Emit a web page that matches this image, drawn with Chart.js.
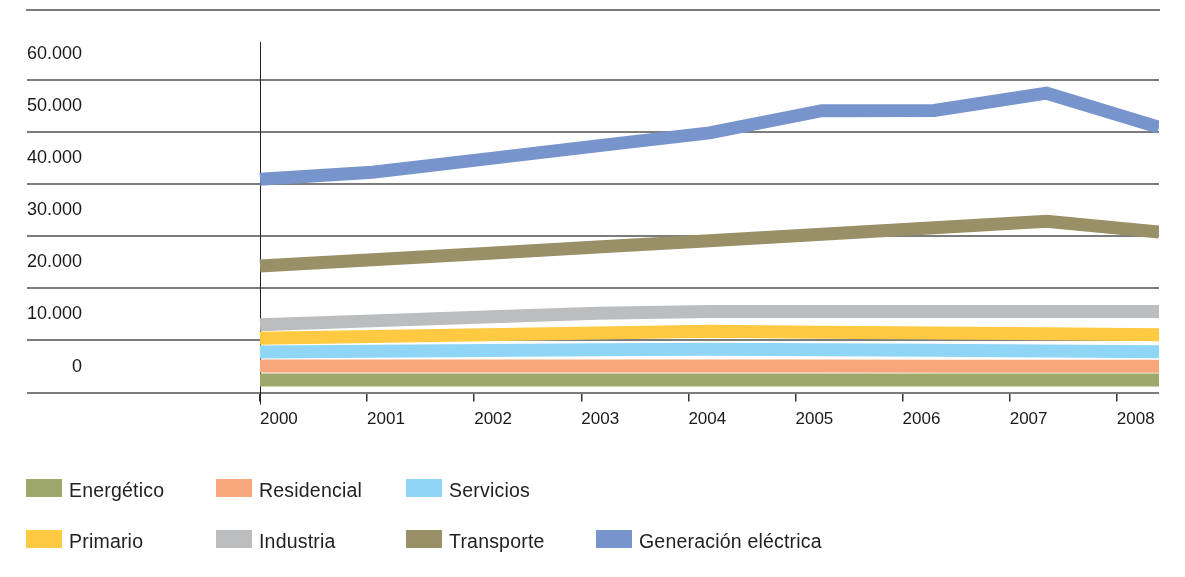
<!DOCTYPE html>
<html>
<head>
<meta charset="utf-8">
<script src="https://cdn.jsdelivr.net/npm/chart.js"></script>
<style>
  body { margin: 0; background: #fff; }
  #wrap { position: relative; width: 1185px; height: 577px; }
  #legend {
    position: absolute; left: 26px; top: 478px;
    display: grid; grid-template-columns: repeat(4, 190px);
    grid-auto-rows: 24px; row-gap: 27px;
    font-family: "Liberation Sans", Arial, sans-serif; font-size: 19.5px;
    line-height: 24px; color: #222; letter-spacing: 0.2px; white-space: nowrap;
  }
  #legend .box { display: inline-block; width: 36px; height: 18px; margin-right: 7px; }
</style>
</head>
<body>
<div id="wrap">
  <canvas id="chart" width="1185" height="577"></canvas>
  <div id="legend"></div>
</div>
<script>
const years = ["2000", "2001", "2002", "2003", "2004", "2005", "2006", "2007", "2008"];
const yTickValues = [0, 10000, 20000, 30000, 40000, 50000, 60000];
const yTickLabels = ["0", "10.000", "20.000", "30.000", "40.000", "50.000", "60.000"];

const energetico  = [2430, 2430, 2430, 2430, 2430, 2430, 2430, 2430, 2430];
const residencial = [5120, 5120, 5110, 5110, 5100, 5090, 5070, 5060, 5040];
const servicios   = [7800, 7930, 8070, 8200, 8340, 8220, 8110, 7970, 7860];
const primario    = [10410, 10750, 11080, 11420, 11750, 11590, 11420, 11270, 11120];
const industria   = [13030, 13760, 14510, 15240, 15580, 15580, 15580, 15580, 15580];
const transporte  = [24280, 25490, 26700, 27920, 29130, 30390, 31640, 32870, 30820];
const generacion  = [40950, 42260, 44790, 47340, 49830, 54080, 54140, 57440, 50880];

const seriesNames = ["Energético", "Residencial", "Servicios", "Primario", "Industria", "Transporte", "Generación eléctrica"];
const seriesData = [energetico, residencial, servicios, primario, industria, transporte, generacion];
const colors = ["#9fa86c", "#f7a67b", "#8fd6f6", "#ffca41", "#bcbdbf", "#999068", "#7894cc"];

const yMax = 73400;      // top border of the plot
const axisTop = 67300;   // where the vertical axis line starts

// vertical axis line at 2000
const axisLine = {
  id: "axisLine",
  beforeDatasetsDraw(chart) {
    const {ctx, scales: {x, y}, chartArea} = chart;
    const px = Math.round(x.getPixelForValue(0)) + 0.5;
    ctx.save();
    ctx.strokeStyle = "#222";
    ctx.lineWidth = 1;
    ctx.beginPath();
    ctx.moveTo(px, y.getPixelForValue(axisTop));
    ctx.lineTo(px, chartArea.bottom + 12);
    ctx.stroke();
    ctx.restore();
  }
};

const datasets = seriesNames.map((name, i) => ({
  label: name,
  data: seriesData[i].map((v, k) => ({x: k, y: v})),
  borderColor: colors[i],
  backgroundColor: colors[i],
  borderWidth: 13,
  borderCapStyle: "butt",
  borderJoinStyle: "miter",
  pointRadius: 0,
  tension: 0,
  fill: false
}));

new Chart(document.getElementById("chart"), {
  type: "line",
  data: {datasets},
  plugins: [axisLine],
  options: {
    responsive: false,
    animation: false,
    layout: {padding: {left: 27, right: 26, top: 10, bottom: 139}},
    plugins: {legend: {display: false}, tooltip: {enabled: false}},
    scales: {
      x: {
        type: "linear", position: "top", min: -2.0734, max: 8,
        grid: {display: false, drawTicks: false},
        ticks: {display: false},
        border: {display: true, color: "#7c7c7c", width: 2}
      },
      x2: {
        type: "linear", position: "bottom", min: -2.1755, max: 8.394,
        afterBuildTicks: s => { s.ticks = years.map((_, i) => ({value: i})); },
        afterFit: s => { s.paddingLeft = 0; s.paddingRight = 0; },
        grid: {drawOnChartArea: false, drawTicks: true, tickLength: 9, color: "#333", lineWidth: 1.5},
        border: {display: false},
        ticks: {
          align: "start", padding: 8, maxRotation: 0, autoSkip: false, color: "#1a1a1a",
          font: {family: "Liberation Sans", size: 17},
          callback: v => years[v]
        }
      },
      y: {
        type: "linear", position: "left", min: 0, max: yMax,
        afterBuildTicks: s => { s.ticks = yTickValues.map(v => ({value: v})); },
        afterFit: s => { s.paddingTop = 0; s.paddingBottom = 0; },
        grid: {color: "#7c7c7c", lineWidth: 2, drawTicks: false},
        border: {display: false},
        ticks: {
          mirror: true, crossAlign: "far", padding: 0, labelOffset: -26, color: "#1a1a1a",
          font: {family: "Liberation Sans", size: 18},
          callback: v => yTickLabels[yTickValues.indexOf(v)]
        }
      }
    }
  }
});

// legend: three items on the first row, four on the second
const legend = document.getElementById("legend");
seriesNames.forEach((name, i) => {
  const item = document.createElement("div");
  item.style.gridRow = i < 3 ? 1 : 2;
  item.style.gridColumn = i < 3 ? i + 1 : i - 2;
  const box = document.createElement("span");
  box.className = "box";
  box.style.background = colors[i];
  item.appendChild(box);
  item.appendChild(document.createTextNode(name));
  legend.appendChild(item);
});
</script>
</body>
</html>
